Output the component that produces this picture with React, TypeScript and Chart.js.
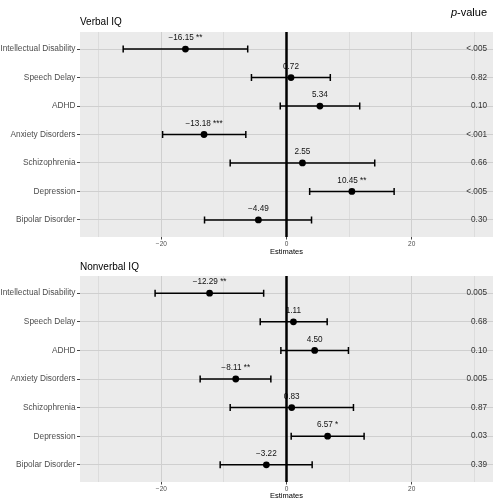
import React, { useEffect, useRef } from "react";
import { Chart, registerables } from "chart.js";
Chart.register(...registerables);

const FONT = "'Liberation Sans', Arial, Helvetica, sans-serif";

const categories = [
  "Intellectual Disability",
  "Speech Delay",
  "ADHD",
  "Anxiety Disorders",
  "Schizophrenia",
  "Depression",
  "Bipolar Disorder",
];

const verbalEst = [-16.15, 0.72, 5.34, -13.18, 2.55, 10.45, -4.49];
const verbalLow = [-26.1, -5.6, -1.0, -19.8, -9.0, 3.7, -13.1];
const verbalHigh = [-6.2, 7.0, 11.7, -6.5, 14.1, 17.2, 4.0];
const verbalStars = ["**", "", "", "***", "", "**", ""];
const verbalP = ["<.005", "0.82", "0.10", "<.001", "0.66", "<.005", "0.30"];

const nonverbalEst = [-12.29, 1.11, 4.5, -8.11, 0.83, 6.57, -3.22];
const nonverbalLow = [-21.0, -4.2, -0.9, -13.8, -9.0, 0.75, -10.6];
const nonverbalHigh = [-3.65, 6.5, 9.9, -2.5, 10.7, 12.4, 4.1];
const nonverbalStars = ["**", "", "", "**", "", "*", ""];
const nonverbalP = ["0.005", "0.68", "0.10", "0.005", "0.87", "0.03", "0.39"];

const xMin = -33;
const xMax = 33;

function fmt(v: number, s: string) {
  const base = (v < 0 ? "\u2212" : "") + Math.abs(v).toFixed(2);
  return s ? base + " " + s : base;
}

type PanelProps = {
  top: number;
  height: number;
  areaTop: number;
  areaBottom: number;
  xAxisH: number;
  titleY: number;
  title: string;
  est: number[];
  low: number[];
  high: number[];
  stars: string[];
  pvals: string[];
  pHeader?: boolean;
};

function Panel(props: PanelProps) {
  const ref = useRef<HTMLCanvasElement>(null);
  useEffect(() => {
    const { height, areaTop, areaBottom, xAxisH, titleY, title, est, low, high, stars, pvals, pHeader } = props;
    const plugin = {
      id: "forest",
      beforeDraw(chart: any) {
        const { ctx, chartArea: a } = chart;
        ctx.save();
        ctx.fillStyle = "#EBEBEB";
        ctx.fillRect(a.left, a.top, a.right - a.left, a.bottom - a.top);
        ctx.fillStyle = "#000";
        ctx.font = `10px ${FONT}`;
        ctx.textBaseline = "middle";
        ctx.textAlign = "left";
        ctx.fillText(title, a.left, titleY);
        if (pHeader) {
          ctx.font = `11px ${FONT}`;
          ctx.textAlign = "right";
          const rest = "-value";
          const rx = 487;
          ctx.fillText(rest, rx, 13);
          const w = ctx.measureText(rest).width;
          ctx.font = `italic 11px ${FONT}`;
          ctx.fillText("p", rx - w, 13);
        }
        ctx.restore();
      },
      beforeDatasetsDraw(chart: any) {
        const { ctx } = chart;
        const xs = chart.scales.x;
        const ys = chart.scales.y;
        ctx.save();
        ctx.strokeStyle = "#000";
        ctx.lineWidth = 1.5;
        est.forEach((_, i) => {
          const y = ys.getPixelForValue(i);
          const x1 = xs.getPixelForValue(low[i]);
          const x2 = xs.getPixelForValue(high[i]);
          ctx.beginPath();
          ctx.moveTo(x1, y);
          ctx.lineTo(x2, y);
          ctx.moveTo(x1, y - 3.5);
          ctx.lineTo(x1, y + 3.5);
          ctx.moveTo(x2, y - 3.5);
          ctx.lineTo(x2, y + 3.5);
          ctx.stroke();
        });
        ctx.restore();
      },
      afterDatasetsDraw(chart: any) {
        const { ctx, chartArea: a } = chart;
        const xs = chart.scales.x;
        const ys = chart.scales.y;
        ctx.save();
        ctx.textBaseline = "middle";
        ctx.font = `8.2px ${FONT}`;
        ctx.fillStyle = "#111";
        ctx.textAlign = "center";
        est.forEach((e, i) => {
          ctx.fillText(fmt(e, stars[i]), xs.getPixelForValue(e), ys.getPixelForValue(i) - 11);
        });
        ctx.textAlign = "right";
        ctx.fillStyle = "#333";
        pvals.forEach((p, i) => {
          ctx.fillText(p, 487, ys.getPixelForValue(i));
        });
        const x0 = xs.getPixelForValue(0);
        ctx.strokeStyle = "#000";
        ctx.lineWidth = 2.5;
        ctx.beginPath();
        ctx.moveTo(x0, a.top);
        ctx.lineTo(x0, a.bottom);
        ctx.stroke();
        ctx.restore();
      },
    };

    const chart = new Chart(ref.current as HTMLCanvasElement, {
      type: "scatter",
      data: {
        datasets: [
          {
            data: est.map((e, i) => ({ x: e, y: i })),
            backgroundColor: "#000",
            borderColor: "#000",
            borderWidth: 0,
            pointRadius: 3.4,
            showLine: false,
          },
        ],
      },
      options: {
        animation: false,
        responsive: false,
        devicePixelRatio: 1,
        layout: {
          padding: { top: areaTop, left: 0, right: -3, bottom: height - areaBottom - xAxisH },
        },
        plugins: { legend: { display: false }, tooltip: { enabled: false } },
        scales: {
          x: {
            type: "linear",
            min: xMin,
            max: xMax,
            afterFit: (s: any) => {
              s.height = xAxisH;
              s.paddingRight = 0;
              s.paddingLeft = 0;
            },
            border: { display: false },
            grid: {
              color: (c: any) => (c.tick && c.tick.value % 20 === 0 ? "#cfcfcf" : "#dcdcdc"),
              tickColor: (c: any) => (c.tick && c.tick.value % 20 === 0 ? "#444" : "rgba(0,0,0,0)"),
              tickLength: 2.5,
              lineWidth: 1,
            },
            ticks: {
              stepSize: 10,
              includeBounds: false,
              autoSkip: false,
              maxRotation: 0,
              padding: 1,
              color: "#4d4d4d",
              font: { family: FONT, size: 6.5 },
              callback: (v: any) => {
                const n = Number(v);
                if (n % 20 !== 0) return "";
                return n < 0 ? "\u2212" + Math.abs(n) : String(n);
              },
            },
            title: {
              display: true,
              text: "Estimates",
              color: "#000",
              font: { family: FONT, size: 7.5 },
              padding: { top: 1, bottom: 0 },
            },
          },
          y: {
            type: "linear",
            min: -0.6,
            max: 6.6,
            reverse: true,
            afterFit: (s: any) => {
              s.width = 80;
            },
            afterBuildTicks: (s: any) => {
              s.ticks = categories.map((_, i) => ({ value: i }));
            },
            border: { display: false },
            grid: {
              color: "#cfcfcf",
              tickColor: "#444",
              tickLength: 3,
              lineWidth: 1,
            },
            ticks: {
              autoSkip: false,
              padding: 1.5,
              color: "#4d4d4d",
              font: { family: FONT, size: 8.3 },
              callback: (v: any) => categories[Number(v)] ?? "",
            },
          },
        },
      },
      plugins: [plugin],
    } as any);
    return () => chart.destroy();
  }, []);
  return (
    <canvas
      ref={ref}
      width={497}
      height={props.height}
      style={{ position: "absolute", left: 0, top: props.top, width: 497, height: props.height }}
    />
  );
}

export default function App() {
  return (
    <div style={{ position: "fixed", left: 0, top: 0, width: 497, height: 500, background: "#fff", overflow: "hidden" }}>
      <Panel
        top={0}
        height={262}
        areaTop={32}
        areaBottom={237}
        xAxisH={19}
        titleY={22}
        title="Verbal IQ"
        est={verbalEst}
        low={verbalLow}
        high={verbalHigh}
        stars={verbalStars}
        pvals={verbalP}
        pHeader
      />
      <Panel
        top={248}
        height={252}
        areaTop={28}
        areaBottom={234}
        xAxisH={18}
        titleY={19}
        title="Nonverbal IQ"
        est={nonverbalEst}
        low={nonverbalLow}
        high={nonverbalHigh}
        stars={nonverbalStars}
        pvals={nonverbalP}
      />
    </div>
  );
}
